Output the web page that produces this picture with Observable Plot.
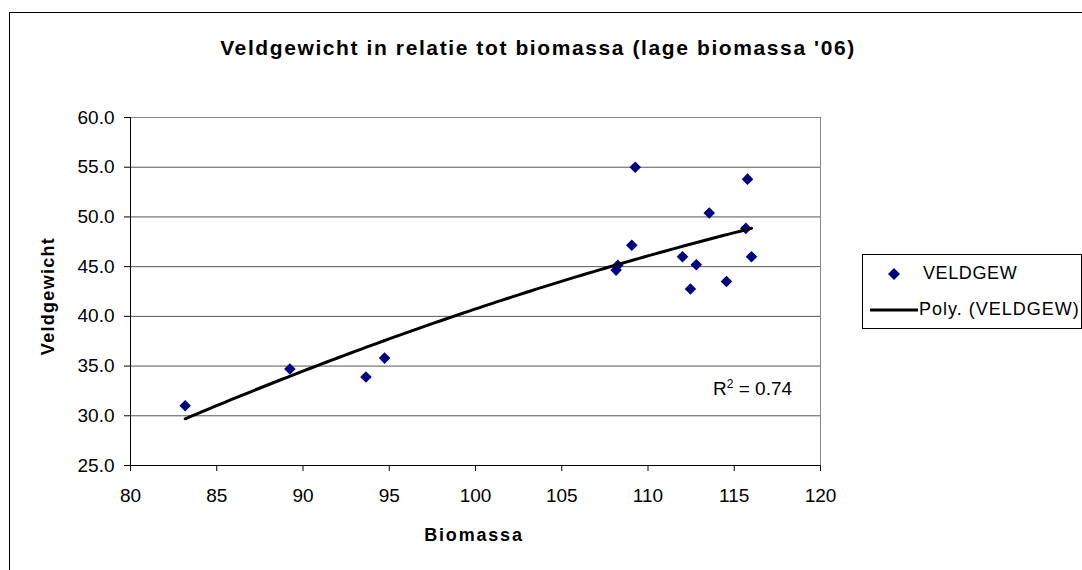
<!DOCTYPE html>
<html>
<head>
<meta charset="utf-8">
<script src="https://cdn.jsdelivr.net/npm/d3@7"></script>
<script src="https://cdn.jsdelivr.net/npm/@observablehq/plot@0.6"></script>
<style>
  html, body { margin: 0; padding: 0; background: #fff; overflow: hidden; }
  body { width: 1082px; height: 570px; position: relative; font-family: "Liberation Sans", Arial, sans-serif; }
  #chart { position: absolute; left: 0; top: 0; }
  .abs { position: absolute; white-space: nowrap; color: #000; }
  #border { position: absolute; left: 9px; top: 12px; width: 2000px; height: 2000px; border-left: 1.5px solid #000; border-top: 1.5px solid #000; }
  #title { font-weight: bold; font-size: 21px; letter-spacing: 1.6px; left: 538px; top: 48px; transform: translate(-50%, -50%); }
  #ylabel { font-weight: bold; font-size: 18px; letter-spacing: 1.3px; left: 48px; top: 296px; transform: translate(-50%, -50%) rotate(-90deg); }
  #xlabel { font-weight: bold; font-size: 18px; letter-spacing: 1.8px; left: 474px; top: 535px; transform: translate(-50%, -50%); }
  #r2 { font-size: 19px; left: 713px; top: 378px; }
  #legend { position: absolute; left: 862px; top: 254px; width: 218px; height: 73px; border: 1px solid #000; background: #fff; }
  .leg { position: absolute; font-size: 18px; white-space: nowrap; }
</style>
</head>
<body>
<div id="border"></div>
<div id="chart"></div>
<div id="title" class="abs"></div>
<div id="ylabel" class="abs"></div>
<div id="xlabel" class="abs"></div>
<div id="r2" class="abs">R<sup style="font-size:12px;vertical-align:7px;line-height:0">2</sup> = 0.74</div>
<div id="legend">
  <svg width="60" height="73" style="position:absolute;left:0;top:0">
    <path d="M31,13 L37,19 L31,25 L25,19 Z" fill="#000080"></path>
    <line x1="7" y1="55" x2="55" y2="55" stroke="#000" stroke-width="3"></line>
  </svg>
  <div class="leg" style="left:60px;top:8px;letter-spacing:0.6px">VELDGEW</div>
  <div class="leg" style="left:56px;top:44px;letter-spacing:1px">Poly. (VELDGEW)</div>
</div>
<script>
// ---- data ----
const titleText = "Veldgewicht in relatie tot biomassa (lage biomassa '06)";
const xTitle = "Biomassa";
const yTitle = "Veldgewicht";
const biomassa = [83.17, 89.24, 93.65, 94.73, 108.15, 108.25, 109.06, 109.26, 112.0, 112.46, 112.8, 113.55, 114.55, 115.67, 115.77, 116.0];
const veldgewicht = [31.0, 34.7, 33.9, 35.8, 44.65, 45.15, 47.15, 55.0, 46.0, 42.75, 45.2, 50.4, 43.5, 48.85, 53.8, 46.0];
const xTicks = [80, 85, 90, 95, 100, 105, 110, 115, 120];
const yTicks = [25, 30, 35, 40, 45, 50, 55, 60];

document.getElementById("title").textContent = titleText;
document.getElementById("xlabel").textContent = xTitle;
document.getElementById("ylabel").textContent = yTitle;

const points = biomassa.map((x, i) => ({x, y: veldgewicht[i]}));

// quadratic least-squares trend (Excel "Poly." order 2)
function polyFit2(xs, ys) {
  const n = xs.length;
  let s = [0,0,0,0,0], t = [0,0,0];
  for (let i = 0; i < n; i++) {
    const x = xs[i], y = ys[i];
    for (let k = 0; k <= 4; k++) s[k] += Math.pow(x, k);
    for (let k = 0; k <= 2; k++) t[k] += Math.pow(x, k) * y;
  }
  const A = [[s[0], s[1], s[2], t[0]], [s[1], s[2], s[3], t[1]], [s[2], s[3], s[4], t[2]]];
  for (let c = 0; c < 3; c++) {
    let p = c;
    for (let r = c + 1; r < 3; r++) if (Math.abs(A[r][c]) > Math.abs(A[p][c])) p = r;
    [A[c], A[p]] = [A[p], A[c]];
    for (let r = 0; r < 3; r++) {
      if (r === c) continue;
      const f = A[r][c] / A[c][c];
      for (let k = c; k < 4; k++) A[r][k] -= f * A[c][k];
    }
  }
  return [A[0][3] / A[0][0], A[1][3] / A[1][1], A[2][3] / A[2][2]];
}
const [c0, c1, c2] = polyFit2(biomassa, veldgewicht);
const [xmin, xmax] = d3.extent(biomassa);
const trend = d3.range(0, 101).map(i => {
  const x = xmin + (xmax - xmin) * i / 100;
  return {x, y: c0 + c1 * x + c2 * x * x};
});

const chart = Plot.plot({
  width: 1082,
  height: 570,
  marginLeft: 130,
  marginRight: 262,
  marginTop: 117,
  marginBottom: 105,
  style: {fontFamily: "'Liberation Sans', Arial, sans-serif", fontSize: "19px", background: "transparent", color: "#000"},
  x: {domain: [80, 120], ticks: xTicks, label: null},
  y: {domain: [25, 60], ticks: yTicks, label: null},
  marks: [
    Plot.gridY(yTicks, {stroke: "#555", strokeOpacity: 1}),
    Plot.frame({stroke: "#888"}),
    Plot.ruleX([80], {stroke: "#000"}),
    Plot.ruleY([25], {stroke: "#000"}),
    Plot.axisX(xTicks, {tickSize: 6, tickPadding: 17, tickFormat: d => String(d), stroke: "#000"}),
    Plot.axisY(yTicks, {tickSize: 6, tickPadding: 10, tickFormat: d3.format(".1f"), stroke: "#000"}),
    Plot.dot(points, {x: "x", y: "y", symbol: "diamond2", r: 5.2, fill: "#000080", stroke: null}),
    Plot.line(trend, {x: "x", y: "y", stroke: "#000", strokeWidth: 3})
  ]
});
document.getElementById("chart").appendChild(chart);
</script>
</body>
</html>
